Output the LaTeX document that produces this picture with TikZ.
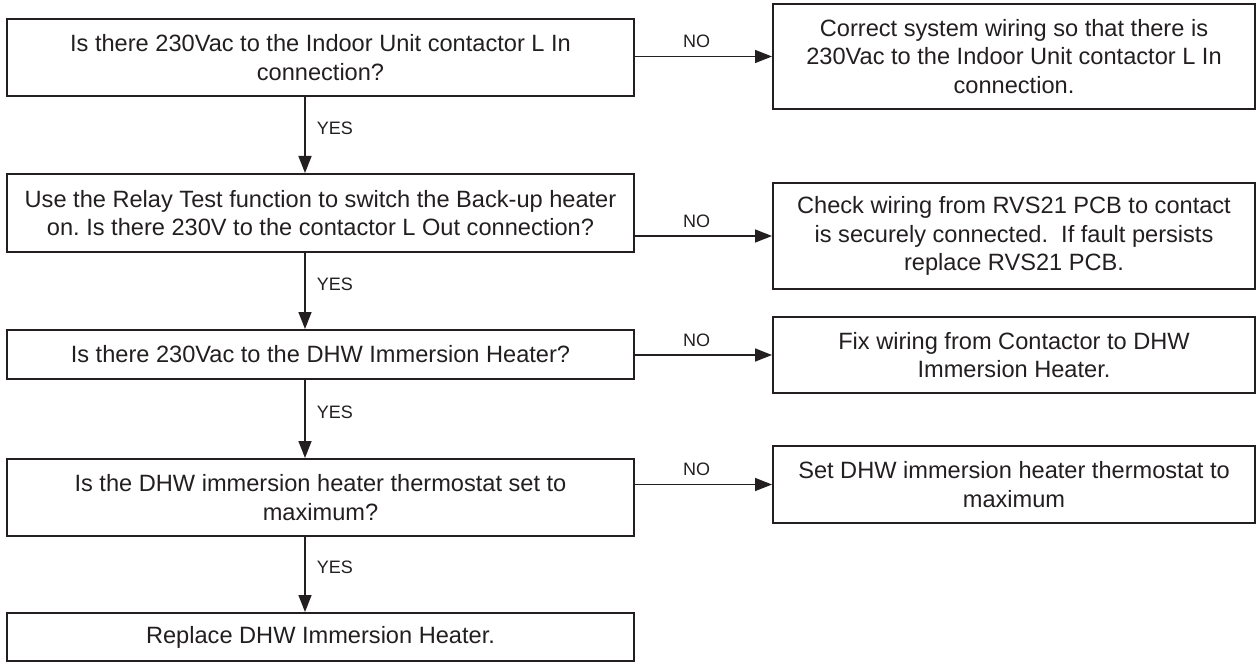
\documentclass[tikz,border=0pt]{standalone}
\usepackage{fontspec}
\setmainfont{Liberation Sans}
\usetikzlibrary{arrows.meta}
\definecolor{ink}{HTML}{231F20}
\frenchspacing
\begin{document}
\begin{tikzpicture}[x=0.5pt,y=-0.5pt,
  basebox/.style={draw=ink,line width=1pt,inner sep=0pt,align=center,text=ink,
    font=\fontsize{11.8}{14.25}\selectfont},
  lbox/.style={basebox,minimum width=313.5pt},
  rbox/.style={basebox,minimum width=241pt},
  arr/.style={draw=ink,line width=0.75pt,-{Triangle[length=8.5pt,width=6.5pt]}},
  yeslbl/.style={anchor=west,pos=0.41,xshift=5.5pt,inner sep=0pt,text=ink,
    font=\fontsize{9}{10}\selectfont},
  nolbl/.style={anchor=base,pos=0.45,yshift=4.3pt,inner sep=0pt,text=ink,
    font=\fontsize{9}{10}\selectfont}]
\useasboundingbox (0,0) rectangle (1257,663);

\node[lbox,minimum height=38.5pt] (q1) at (320.5,57.5)
  {Is there 230Vac to the Indoor Unit contactor L In\\connection?};
\node[lbox,minimum height=39pt] (q2) at (320.5,213)
  {Use the Relay Test function to switch the Back-up heater\\on. Is there 230V to the contactor L Out connection?};
\node[lbox,minimum height=24.5pt] (q3) at (320.5,354.5)
  {Is there 230Vac to the DHW Immersion Heater?};
\node[lbox,minimum height=38.5pt] (q4) at (320.5,497.5)
  {Is the DHW immersion heater thermostat set to\\maximum?};
\node[lbox,minimum height=24pt] (q5) at (320.5,637)
  {Replace DHW Immersion Heater.};

\node[rbox,minimum height=52.5pt] (r1) at (1014,56.5)
  {Correct system wiring so that there is\\230Vac to the Indoor Unit contactor L In\\connection.};
\node[rbox,minimum height=53pt] (r2) at (1014,236)
  {Check wiring from RVS21 PCB to contact\\is securely connected.\ \ If fault persists\\replace RVS21 PCB.};
\node[rbox,minimum height=38pt] (r3) at (1014,355)
  {Fix wiring from Contactor to DHW\\Immersion Heater.};
\node[rbox,minimum height=38.5pt] (r4) at (1014,484.5)
  {Set DHW immersion heater thermostat to\\maximum};

\coordinate (ax) at (305,0);
\draw[arr] (q1.south -| ax) -- node[yeslbl]{YES} (q2.north -| ax);
\draw[arr] (q2.south -| ax) -- node[yeslbl]{YES} (q3.north -| ax);
\draw[arr] (q3.south -| ax) -- node[yeslbl]{YES} (q4.north -| ax);
\draw[arr] (q4.south -| ax) -- node[yeslbl]{YES} (q5.north -| ax);

\draw[arr] (r1.west -| q1.east) -- node[nolbl]{NO} (r1.west);
\draw[arr] (r2.west -| q2.east) -- node[nolbl]{NO} (r2.west);
\draw[arr] (r3.west -| q3.east) -- node[nolbl]{NO} (r3.west);
\draw[arr] (r4.west -| q4.east) -- node[nolbl]{NO} (r4.west);
\end{tikzpicture}
\end{document}
